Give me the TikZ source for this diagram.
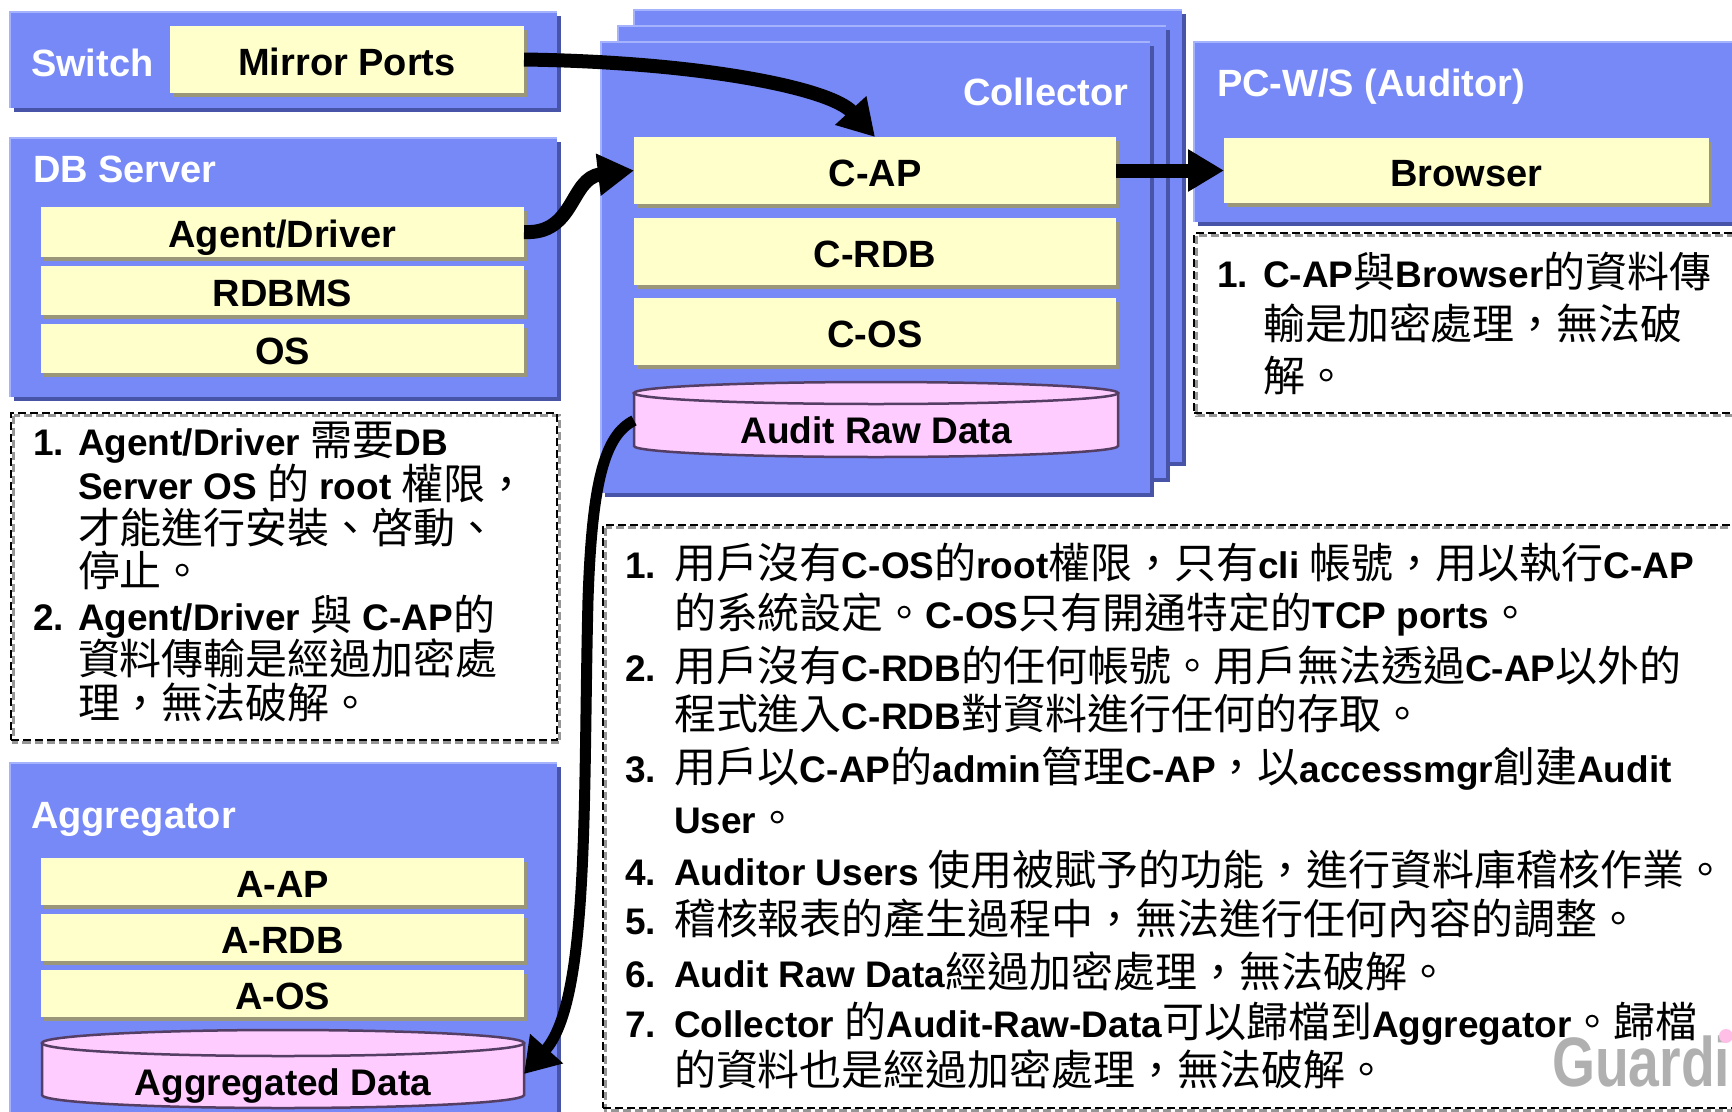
\documentclass[tikz,border=0pt]{standalone}
\usepackage{fontspec}
\setmainfont{Liberation Sans}
\newfontfamily\cjkfont[Scale=1.135]{Noto Sans CJK TC}
\newfontfamily\wmfont[FakeStretch=0.79]{Liberation Sans}
\usetikzlibrary{arrows.meta,calc,fit}
\definecolor{boxblue}{RGB}{119,136,247}
\definecolor{boxdark}{RGB}{72,84,168}
\definecolor{boxlight}{RGB}{165,178,252}
\definecolor{barfill}{RGB}{255,255,204}
\definecolor{barshadow}{RGB}{153,150,122}
\definecolor{pinkfill}{RGB}{255,204,255}
\definecolor{pinkedge}{RGB}{84,62,100}
\definecolor{wmgray}{RGB}{176,176,176}
\definecolor{wmpink}{RGB}{255,190,230}
\definecolor{dashgray}{RGB}{150,150,150}
\newcommand\C[1]{{\cjkfont\mdseries #1}}
\newcommand\bluebox[3]{%
  \fill[boxdark] ($#2+(4,4)$) rectangle ($#3+(4,4)$);
  \node[bbox, fit={#2 #3}] (#1) {};
  \draw[boxlight, line width=2pt] (#1.south west) -- (#1.north west) -- (#1.north east);}
\newcommand\ybar[4]{%
  \fill[barshadow] ($#2+(3,4)$) rectangle ($#3+(3,4)$);
  \node[ybarst, fit={#2 #3}] (#1) {};
  \node[bartext] (#1t) at ([yshift=-2pt]#1.center) {#4};}
\newcommand\notebox[3]{%
  \draw[notedash, draw=dashgray] ($#2+(2.5,2.5)$) rectangle ($#3+(2.5,2.5)$);
  \node[notedash, draw=black, fit={#2 #3}] (#1) {};}
\newcommand\nl[4]{\node[notetext, anchor=base west] (#1) at (#2,#3) {#4};}
\tikzset{
  bbox/.style={fill=boxblue},
  ybarst/.style={fill=barfill},
  bartext/.style={font={\fontsize{38}{40}\selectfont\bfseries}, text height=27pt, text depth=0pt},
  title/.style={text=white, font={\fontsize{38}{40}\selectfont\bfseries}},
  cylst/.style={fill=pinkfill, draw=pinkedge, line width=2.5pt},
  cyltext/.style={font={\fontsize{37}{40}\selectfont\bfseries}, text height=26pt, text depth=0pt},
  notedash/.style={line width=2.5pt, dash pattern=on 8pt off 4pt},
  notetext/.style={font={\fontsize{37}{40}\selectfont\bfseries}},
  arr/.style={line width=14pt, -{Triangle[length=36pt,width=40pt]}},
  arrthin/.style={line width=11pt, -{Triangle[length=34pt,width=42pt]}}
}
\begin{document}
\begin{tikzpicture}[x=1pt,y=-1pt, every node/.style={inner sep=0pt, outer sep=0pt}]
\useasboundingbox (0,0) rectangle (1732,1111);
\clip (0,0) rectangle (1732,1111);
% Switch
\bluebox{switch}{(10,12)}{(557,108)}
\ybar{mirror}{(170,26)}{(524,93)}{Mirror Ports}
\node[title, anchor=base west] (tswitch) at (31,76) {Switch};
% DB Server
\bluebox{db}{(10,138)}{(557,397)}
\node[title, anchor=base west] (tdb) at (33,182) {DB Server};
\ybar{agent}{(41,207)}{(524,257)}{Agent/Driver}
\ybar{rdbms}{(41,266)}{(524,315)}{RDBMS}
\ybar{os}{(41,324)}{(524,373)}{OS}
% Collector stack
\bluebox{colback}{(634,10)}{(1182,462)}
\bluebox{colmid}{(618,26)}{(1166,478)}
\bluebox{col}{(601,42)}{(1150,493)}
\node[title, anchor=base east] (tcol) at (1128,105) {Collector};
\ybar{cap}{(634,137)}{(1116,204)}{C-AP}
\ybar{crdb}{(634,218)}{(1116,285)}{C-RDB}
\ybar{cos}{(634,298)}{(1116,365)}{C-OS}
\filldraw[cylst] (634,393) -- (634,446) arc[start angle=180, end angle=0, x radius=242, y radius=11] -- (1118,393) -- cycle;
\filldraw[cylst] (876,393) ellipse [x radius=242, y radius=11];
\node[fit={(634,404) (1118,457)}] (raw) {};
\node[cyltext] (rawt) at (raw.center) {Audit Raw Data};
% PC-W/S
\bluebox{pc}{(1194,42)}{(1745,222)}
\node[title, anchor=base west] (tpc) at (1217,96) {PC-W/S (Auditor)};
\ybar{browser}{(1224,138)}{(1709,203)}{Browser}
% Aggregator
\bluebox{aggbox}{(10,763)}{(557,1125)}
\node[title, anchor=base west] (tagg) at (31,828) {Aggregator};
\ybar{aap}{(41,858)}{(524,905)}{A-AP}
\ybar{ardb}{(41,914)}{(524,961)}{A-RDB}
\ybar{aos}{(41,970)}{(524,1017)}{A-OS}
\filldraw[cylst] (42,1043) -- (42,1095) arc[start angle=180, end angle=0, x radius=241, y radius=13] -- (524,1043) -- cycle;
\filldraw[cylst] (283,1043) ellipse [x radius=241, y radius=13];
\node[fit={(42,1056) (524,1108)}] (agg) {};
\node[cyltext] (aggt) at (agg.center) {Aggregated Data};
% note boxes
\notebox{note1}{(11,413)}{(557,740)}
\notebox{note2}{(1194,233)}{(1745,413)}
\notebox{note3}{(603,525)}{(1745,1108)}
% watermark
\node[anchor=base west, text=wmgray, font={\wmfont\fontsize{70}{70}\selectfont\bfseries}] (wm) at (1552,1086) {Guardi};
\fill[wmpink] (1726,1036) circle (7);
% connectors
\draw[arr] (mirror.east) .. controls (700,62) and (830,88) .. (cap.north);
\draw[arr] (agent.east) .. controls (575,235) and (570,178) .. (cap.west);
\draw[arr] (cap.east) -- (browser.west);
\draw[arrthin] ([yshift=10pt]raw.west) .. controls (605,435) and (592,480) .. (588,600)
   .. controls (583,800) and (590,1000) .. ([yshift=8pt]agg.east);
% left note text
\nl{ln1}{33}{455}{1.}
\nl{lt1}{78}{455}{Agent/Driver \C{需要}DB}
\nl{lt2}{78}{499}{Server OS \C{的} root \C{權限，}}
\nl{lt3}{78}{543}{\C{才能進行安裝、啓動、}}
\nl{lt4}{78}{586}{\C{停止。}}
\nl{ln2}{33}{630}{2.}
\nl{lt5}{78}{630}{Agent/Driver \C{與} C-AP\C{的}}
\nl{lt6}{78}{674}{\C{資料傳輸是經過加密處}}
\nl{lt7}{78}{718}{\C{理，無法破解。}}
% right note text
\nl{rn1}{1217}{287}{1.}
\nl{rt1}{1263}{287}{C-AP\C{與}Browser\C{的資料傳}}
\nl{rt2}{1263}{339}{\C{輸是加密處理，無法破}}
\nl{rt3}{1263}{391}{\C{解。}}
% bottom note text
\nl{bn1}{625}{578}{1.}
\nl{bt1}{674}{578}{\C{用戶沒有}C-OS\C{的}root\C{權限，只有}cli \C{帳號，用以執行}C-AP}
\nl{bt2}{674}{628}{\C{的系統設定。}C-OS\C{只有開通特定的}TCP ports\C{。}}
\nl{bn2}{625}{681}{2.}
\nl{bt3}{674}{681}{\C{用戶沒有}C-RDB\C{的任何帳號。用戶無法透過}C-AP\C{以外的}}
\nl{bt4}{674}{729}{\C{程式進入}C-RDB\C{對資料進行任何的存取。}}
\nl{bn3}{625}{782}{3.}
\nl{bt5}{674}{782}{\C{用戶以}C-AP\C{的}admin\C{管理}C-AP\C{，以}accessmgr\C{創建}Audit}
\nl{bt6}{674}{833}{User\C{。}}
\nl{bn4}{625}{885}{4.}
\nl{bt7}{674}{885}{Auditor Users \C{使用被賦予的功能，進行資料庫稽核作業。}}
\nl{bn5}{625}{934}{5.}
\nl{bt8}{674}{934}{\C{稽核報表的產生過程中，無法進行任何內容的調整。}}
\nl{bn6}{625}{987}{6.}
\nl{bt9}{674}{987}{Audit Raw Data\C{經過加密處理，無法破解。}}
\nl{bn7}{625}{1037}{7.}
\nl{bt10}{674}{1037}{Collector \C{的}Audit-Raw-Data\C{可以歸檔到}Aggregator\C{。歸檔}}
\nl{bt11}{674}{1085}{\C{的資料也是經過加密處理，無法破解。}}
\end{tikzpicture}
\end{document}
